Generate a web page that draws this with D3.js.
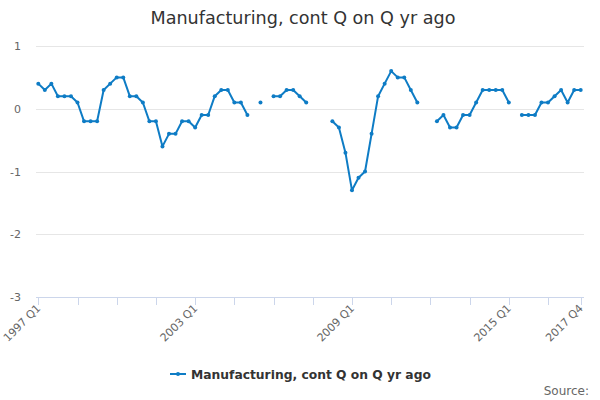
<!DOCTYPE html>
<html>
<head>
<meta charset="utf-8">
<script src="https://cdn.jsdelivr.net/npm/d3@7"></script>
<style>
  html, body { margin: 0; padding: 0; background: #fff; }
  svg { display: block; font-family: "DejaVu Sans", sans-serif; }
</style>
</head>
<body>
<svg id="chart" width="600" height="400"></svg>
<script>
const title = "Manufacturing, cont Q on Q yr ago";
const seriesName = "Manufacturing, cont Q on Q yr ago";
const startYear = 1997;
const quarterCount = 84;
const values = [
  0.4, 0.3, 0.4, 0.2, 0.2, 0.2, 0.1, -0.2, -0.2, -0.2,
  0.3, 0.4, 0.5, 0.5, 0.2, 0.2, 0.1, -0.2, -0.2, -0.6,
  -0.4, -0.4, -0.2, -0.2, -0.3, -0.1, -0.1, 0.2, 0.3, 0.3,
  0.1, 0.1, -0.1, null, 0.1, null, 0.2, 0.2, 0.3, 0.3,
  0.2, 0.1, null, null, null, -0.2, -0.3, -0.7, -1.3, -1.1,
  -1.0, -0.4, 0.2, 0.4, 0.6, 0.5, 0.5, 0.3, 0.1, null,
  null, -0.2, -0.1, -0.3, -0.3, -0.1, -0.1, 0.1, 0.3, 0.3,
  0.3, 0.3, 0.1, null, -0.1, -0.1, -0.1, 0.1, 0.1, 0.2,
  0.3, 0.1, 0.3, 0.3
];
const categories = d3.range(quarterCount).map(i => (startYear + Math.floor(i / 4)) + " Q" + (i % 4 + 1));
const yTicks = [1, 0, -1, -2, -3];
const xLabelCats = ["1997 Q1", "2003 Q1", "2009 Q1", "2015 Q1", "2017 Q4"];
const sourceText = "Source:";

const svg = d3.select("#chart");
const plotLeft = 36, plotRight = 584, plotTop = 46, plotBottom = 297;
const color = "#0e7cc5";

const x = d3.scaleLinear().domain([0, quarterCount - 1]).range([38.3, 580.7]);
const y = d3.scaleLinear().domain([-3, 1]).range([plotBottom, plotTop]);

// title
svg.append("text")
  .attr("x", 303).attr("y", 24)
  .attr("text-anchor", "middle")
  .attr("fill", "#333333")
  .style("font-size", "17.6px")
  .text(title);

// gridlines
svg.append("g").selectAll("line")
  .data(yTicks.filter(t => t !== -3))
  .join("line")
  .attr("x1", plotLeft).attr("x2", plotRight)
  .attr("y1", d => Math.round(y(d)) + 0.5).attr("y2", d => Math.round(y(d)) + 0.5)
  .attr("stroke", "#e6e6e6").attr("stroke-width", 1);

// y labels
svg.append("g").selectAll("text")
  .data(yTicks)
  .join("text")
  .attr("x", 21).attr("y", d => y(d) + 4)
  .attr("text-anchor", "end")
  .attr("fill", "#666666")
  .style("font-size", "11px")
  .text(d => d);

// x axis line
svg.append("line")
  .attr("x1", plotLeft).attr("x2", plotRight)
  .attr("y1", plotBottom + 0.5).attr("y2", plotBottom + 0.5)
  .attr("stroke", "#ccd6eb");

// x ticks every 6 quarters plus last
const tickIdx = d3.range(0, quarterCount, 6).concat([quarterCount - 1]);
svg.append("g").selectAll("line")
  .data(tickIdx)
  .join("line")
  .attr("x1", d => Math.round(x(d)) + 0.5).attr("x2", d => Math.round(x(d)) + 0.5)
  .attr("y1", plotBottom).attr("y2", plotBottom + 8)
  .attr("stroke", "#ccd6eb");

// x labels
svg.append("g").selectAll("text")
  .data(xLabelCats)
  .join("text")
  .attr("transform", d => `translate(${x(categories.indexOf(d)) + 3},${plotBottom + 12}) rotate(-45)`)
  .attr("text-anchor", "end")
  .attr("fill", "#666666")
  .style("font-size", "11px")
  .text(d => d);

// line
const pts = values.map((v, i) => ({ i, v }));
const line = d3.line()
  .defined(d => d.v !== null)
  .x(d => x(d.i)).y(d => y(d.v));
svg.append("path")
  .datum(pts)
  .attr("d", line)
  .attr("fill", "none")
  .attr("stroke", color)
  .attr("stroke-width", 2)
  .attr("stroke-linejoin", "round")
  .attr("stroke-linecap", "round");

svg.append("g").selectAll("circle")
  .data(pts.filter(d => d.v !== null))
  .join("circle")
  .attr("cx", d => x(d.i)).attr("cy", d => y(d.v))
  .attr("r", 2)
  .attr("fill", color);

// legend
const lg = svg.append("g");
lg.append("line")
  .attr("x1", 170).attr("x2", 186).attr("y1", 374).attr("y2", 374)
  .attr("stroke", color).attr("stroke-width", 2);
lg.append("circle").attr("cx", 178).attr("cy", 374).attr("r", 2).attr("fill", color);
lg.append("text")
  .attr("x", 191).attr("y", 378.5)
  .attr("fill", "#333333")
  .style("font-size", "12.3px").style("font-weight", "bold")
  .text(seriesName);

// source
svg.append("text")
  .attr("x", 589).attr("y", 395)
  .attr("text-anchor", "end")
  .attr("fill", "#666666")
  .style("font-size", "12px")
  .text(sourceText);
</script>
</body>
</html>
